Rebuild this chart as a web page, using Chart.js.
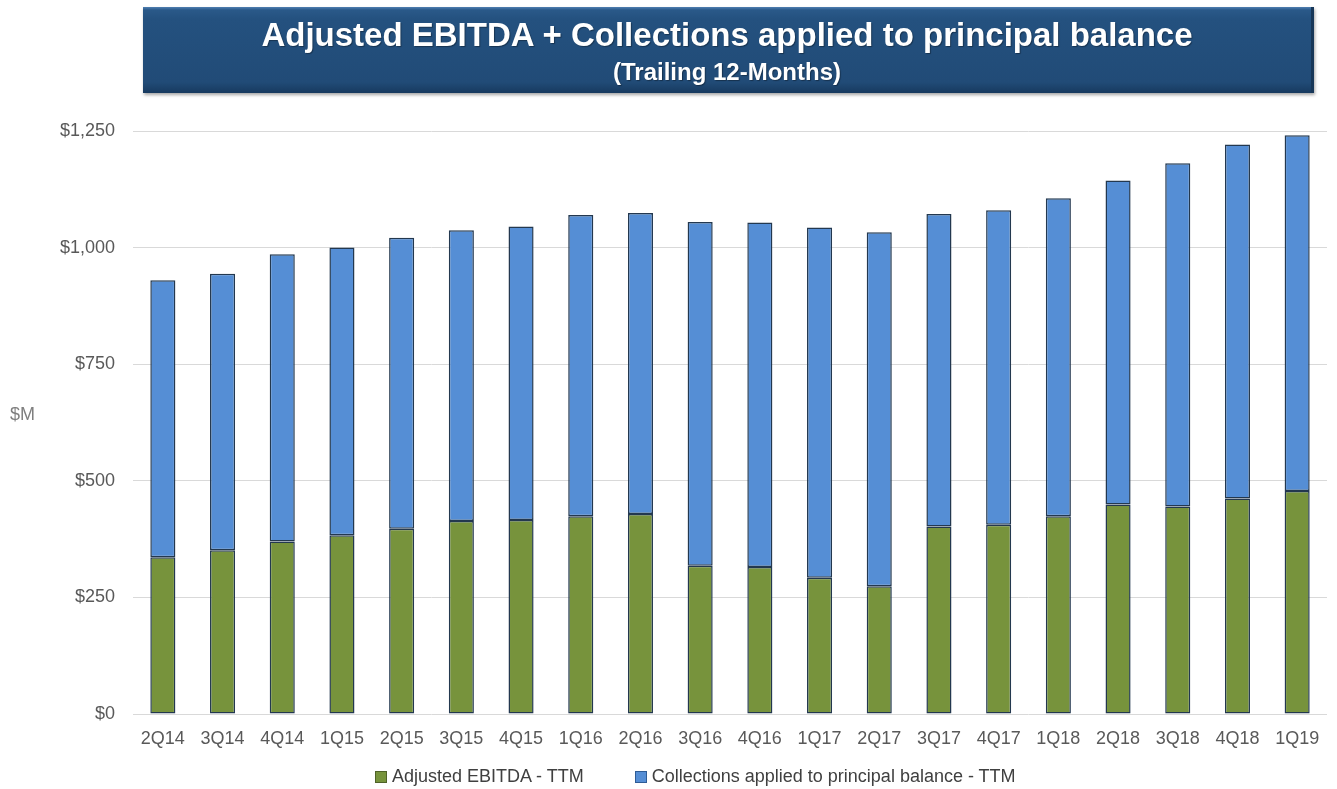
<!DOCTYPE html>
<html>
<head>
<meta charset="utf-8">
<script src="https://cdn.jsdelivr.net/npm/chart.js@4.4.1/dist/chart.umd.min.js"></script>
<style>
  html, body { margin: 0; padding: 0; background: #ffffff; }
  body { width: 1337px; height: 789px; position: relative; overflow: hidden; font-family: 'Liberation Sans', Arial, sans-serif; }
  #chartWrap { position: absolute; left: 0; top: 0; width: 1337px; height: 789px; }
  .banner {
    position: absolute; left: 143px; top: 7px; width: 1171px; height: 86px;
    box-sizing: border-box;
    background: linear-gradient(to bottom, #4f7fb2 0px, #2a5989 3px, #24517f 12px, #214b77 75px, #173a5f 86px);
    border-right: 3px solid #173758;
    box-shadow: 1px 2px 3px rgba(0, 0, 0, 0.35);
    color: #ffffff; text-align: center;
  }
  .banner .main { position: absolute; left: 0; right: 0; top: 9px; font-size: 33px; line-height: 38px; font-weight: bold; text-shadow: 1px 1px 1px rgba(0,0,0,0.35); }
  .banner .sub { position: absolute; left: 0; right: 0; top: 51px; font-size: 24px; line-height: 28px; font-weight: bold; text-shadow: 1px 1px 1px rgba(0,0,0,0.35); }
  #legend { position: absolute; left: 375px; top: 766px; display: flex; align-items: center; font-size: 18px; color: #404040; }
  #legend .item { display: flex; align-items: center; margin-right: 51px; }
  #legend .box { width: 10px; height: 10px; border: 1px solid; margin-right: 5px; }
</style>
</head>
<body>
<div id="chartWrap"><canvas id="ebitdaChart" width="1337" height="789"></canvas></div>
<div class="banner">
  <div class="main">Adjusted EBITDA + Collections applied to principal balance</div>
  <div class="sub">(Trailing 12-Months)</div>
</div>
<div id="legend"></div>
<script>
// quarterly TTM values, $M
const quarters = ['2Q14', '3Q14', '4Q14', '1Q15', '2Q15', '3Q15', '4Q15', '1Q16', '2Q16', '3Q16',
  '4Q16', '1Q17', '2Q17', '3Q17', '4Q17', '1Q18', '2Q18', '3Q18', '4Q18', '1Q19'];
const ebitdaTTM = [336, 351, 370, 383, 397, 414, 416, 424, 429, 318,
  315, 292, 274, 402, 406, 424, 449, 445, 462, 478];
const collectionsTTM = [594, 593, 616, 617, 624, 623, 629, 646, 645, 737,
  739, 751, 759, 670, 674, 682, 695, 736, 759, 763];
const yTicks = [0, 250, 500, 750, 1000, 1250];

const seriesNames = ['Adjusted EBITDA - TTM', 'Collections applied to principal balance - TTM'];
const seriesColors = ['#77933C', '#558ED5'];
const seriesBorders = ['#4F6228', '#2E5C96'];

document.addEventListener('DOMContentLoaded', function() {
  renderChart();
  renderLegend();
});

function renderChart() {
  const ctx = document.getElementById('ebitdaChart').getContext('2d');

  Chart.defaults.font.family = "'Liberation Sans', Arial, sans-serif";

  const data = {
    labels: quarters,
    datasets: [{
      label: seriesNames[0],
      data: ebitdaTTM,
      backgroundColor: seriesColors[0],
      borderColor: '#23384F',
      borderWidth: 1.5,
      borderSkipped: false
    }, {
      label: seriesNames[1],
      data: collectionsTTM,
      backgroundColor: seriesColors[1],
      borderColor: '#23384F',
      borderWidth: 1.5,
      borderSkipped: false
    }]
  };

  // "$M" sits to the left of the value axis, unrotated
  const unitLabelPlugin = {
    id: 'unitLabelPlugin',
    afterDraw(chart) {
      const c = chart.ctx;
      const area = chart.chartArea;
      c.save();
      c.font = "18px 'Liberation Sans', Arial, sans-serif";
      c.fillStyle = '#7F7F7F';
      c.textAlign = 'left';
      c.textBaseline = 'middle';
      c.fillText('$M', 10, (area.top + area.bottom) / 2 - 7);
      c.restore();
    }
  };

  const options = {
    responsive: false,
    animation: false,
    layout: {
      padding: { top: 131, right: 10, bottom: 0, left: 0 }
    },
    datasets: {
      bar: { barPercentage: 0.42, categoryPercentage: 1.0 }
    },
    scales: {
      x: {
        stacked: true,
        grid: { display: false, drawTicks: false },
        border: { display: false },
        ticks: {
          color: '#595959',
          padding: 14,
          maxRotation: 0,
          font: { size: 18 }
        },
        afterFit: function(scale) { scale.height = 75; }
      },
      y: {
        stacked: true,
        min: 0,
        max: 1250,
        afterBuildTicks: function(scale) {
          scale.ticks = yTicks.map(v => ({ value: v }));
        },
        ticks: {
          color: '#595959',
          padding: 18,
          font: { size: 18 },
          callback: function(value) {
            return '$' + value.toLocaleString('en-US');
          }
        },
        grid: { color: '#D9D9D9', lineWidth: 1, drawTicks: false },
        border: { display: false },
        afterFit: function(scale) { scale.width = 133; }
      }
    },
    plugins: {
      legend: { display: false },
      tooltip: { enabled: false }
    }
  };

  if (window.ebitdaChart instanceof Chart) {
    window.ebitdaChart.destroy();
  }
  window.ebitdaChart = new Chart(ctx, {
    type: 'bar',
    data: data,
    options: options,
    plugins: [unitLabelPlugin]
  });
}

function renderLegend() {
  const legend = document.getElementById('legend');
  seriesNames.forEach((name, i) => {
    const item = document.createElement('div');
    item.className = 'item';
    const box = document.createElement('span');
    box.className = 'box';
    box.style.background = seriesColors[i];
    box.style.borderColor = seriesBorders[i];
    const text = document.createElement('span');
    text.textContent = name;
    item.appendChild(box);
    item.appendChild(text);
    legend.appendChild(item);
  });
}
</script>
</body>
</html>
